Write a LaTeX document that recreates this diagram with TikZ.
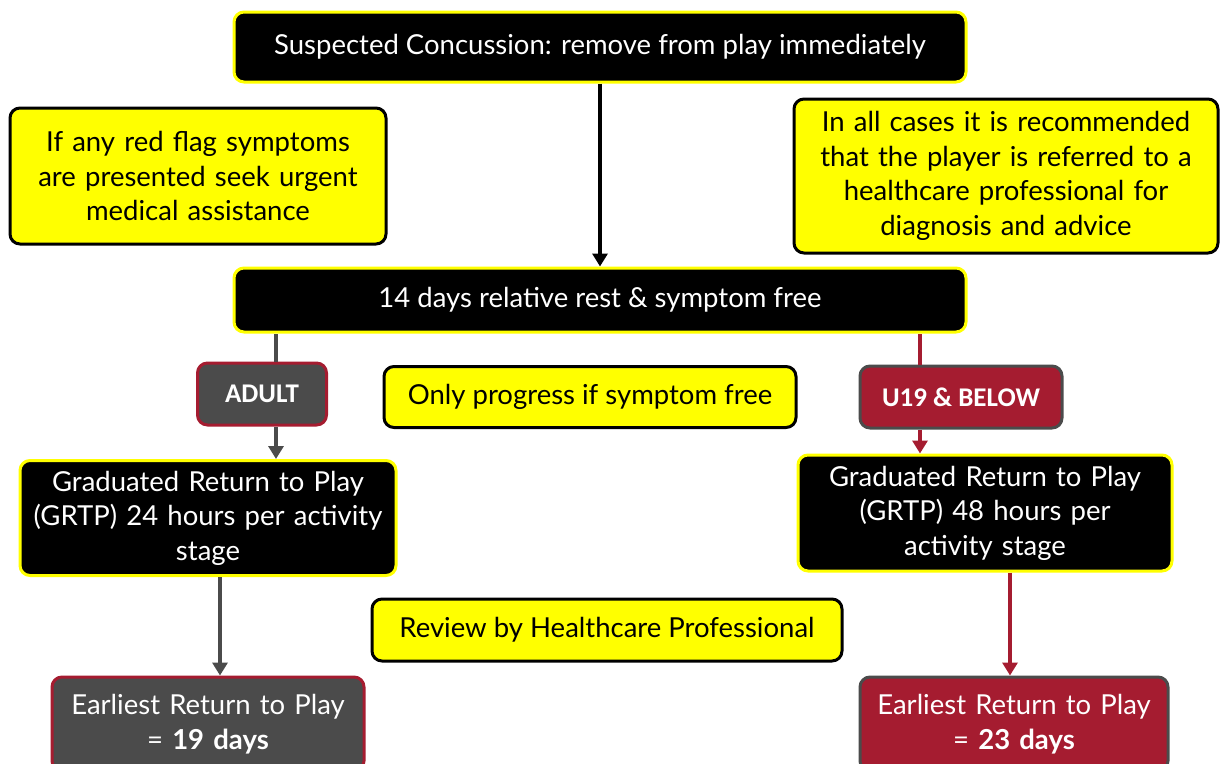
\documentclass[tikz,border=0pt]{standalone}
\usepackage{fontspec}
\setmainfont{Lato}
\newfontfamily\labelfont{Carlito}
\usetikzlibrary{arrows.meta}
\definecolor{flagred}{HTML}{A51C30}
\definecolor{slate}{HTML}{4B4B4B}
\definecolor{brightyellow}{HTML}{FFFF00}
\tikzset{
  box/.style={rounded corners=10pt, line width=3pt, align=center, inner sep=2pt,
    font=\fontsize{27.5}{34.5}\selectfont},
  darkbox/.style={box, fill=black, draw=brightyellow, text=white},
  notebox/.style={box, fill=brightyellow, draw=black, text=black},
  adultbox/.style={box, fill=slate, draw=flagred, text=white},
  youthbox/.style={box, fill=flagred, draw=slate, text=white},
  tagfont/.style={font=\labelfont\bfseries\fontsize{27}{32}\selectfont},
  link/.style={line width=4pt, -{Triangle[width=15pt,length=13pt]}}
}
\begin{document}
\begin{tikzpicture}[x=1pt, y=-1pt]
  \useasboundingbox (0,0) rectangle (1220,763);
  % top of the chart
  \node[darkbox, minimum width=732pt, minimum height=70pt] (suspect) at (600,47) {Suspected Concussion: remove from play immediately};
  \node[notebox, minimum width=376pt, minimum height=136pt, text width=370pt] (redflag) at (198,176) {If any red flag symptoms\\ are presented seek urgent\\ medical assistance};
  \node[notebox, minimum width=424pt, minimum height=154pt, text width=416pt] (allcases) at (1006,176) {In all cases it is recommended\\ that the player is referred to a\\ healthcare professional for\\ diagnosis and advice};
  \node[darkbox, minimum width=732pt, minimum height=64pt] (rest) at (600,300) {14 days relative rest \& symptom free};
  % age groups
  \node[adultbox, tagfont, minimum width=129pt, minimum height=62pt] (adult) at (262,394) {ADULT};
  \node[notebox, minimum width=412pt, minimum height=61pt] (progress) at (590,397) {Only progress if symptom free};
  \node[youthbox, tagfont, minimum width=202pt, minimum height=62pt] (youth) at (961,397) {U19 \& BELOW};
  \node[darkbox, minimum width=376pt, minimum height=115pt, text width=370pt] (grtpadult) at (208,518) {Graduated Return to Play\\ (GRTP) 24 hours per activity\\ stage};
  \node[darkbox, minimum width=374pt, minimum height=116pt, text width=368pt] (grtpyouth) at (985,513) {Graduated Return to Play\\ (GRTP) 48 hours per\\ activity stage};
  \node[notebox, minimum width=470pt, minimum height=62pt] (review) at (607,630) {Review by Healthcare Professional};
  % outcomes
  \node[adultbox, minimum width=312pt, minimum height=94pt, text width=300pt] (earlyadult) at (208,724) {Earliest Return to Play\\ = \textbf{19 days}};
  \node[youthbox, minimum width=308pt, minimum height=94pt, text width=300pt] (earlyyouth) at (1014,724) {Earliest Return to Play\\ = \textbf{23 days}};
  % connectors
  \draw[link, black] (suspect.south) -- (rest.north);
  \draw[line width=4pt, slate] ([xshift=14pt]adult.north) -- ([xshift=14pt]adult.north |- rest.south);
  \draw[link, slate] ([xshift=14pt]adult.south) -- ([xshift=14pt]adult.south |- grtpadult.north);
  \draw[line width=4pt, flagred] ([xshift=-41pt]youth.north) -- ([xshift=-41pt]youth.north |- rest.south);
  \draw[link, flagred] ([xshift=-41pt]youth.south) -- ([xshift=-41pt]youth.south |- grtpyouth.north);
  \draw[link, slate] ([xshift=12pt]grtpadult.south) -- ([xshift=12pt]grtpadult.south |- earlyadult.north);
  \draw[link, flagred] ([xshift=25pt]grtpyouth.south) -- ([xshift=25pt]grtpyouth.south |- earlyyouth.north);
\end{tikzpicture}
\end{document}
